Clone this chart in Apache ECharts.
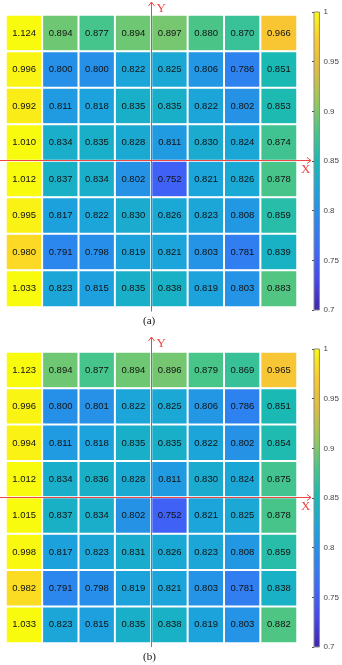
<!DOCTYPE html>
<html>
<head>
<meta charset="utf-8">
<script src="https://cdn.jsdelivr.net/npm/echarts@6/dist/echarts.min.js"></script>
<style>
  html, body { margin: 0; padding: 0; background: #fff; }
  #chart { width: 342px; height: 665px; }
</style>
</head>
<body>
<div id="chart"></div>
<script>
  // panel (a) values, top row first
  const rowsA = [
    [1.124, 0.894, 0.877, 0.894, 0.897, 0.880, 0.870, 0.966],
    [0.996, 0.800, 0.800, 0.822, 0.825, 0.806, 0.786, 0.851],
    [0.992, 0.811, 0.818, 0.835, 0.835, 0.822, 0.802, 0.853],
    [1.010, 0.834, 0.835, 0.828, 0.811, 0.830, 0.824, 0.874],
    [1.012, 0.837, 0.834, 0.802, 0.752, 0.821, 0.826, 0.878],
    [0.995, 0.817, 0.822, 0.830, 0.826, 0.823, 0.808, 0.859],
    [0.980, 0.791, 0.798, 0.819, 0.821, 0.803, 0.781, 0.839],
    [1.033, 0.823, 0.815, 0.835, 0.838, 0.819, 0.803, 0.883]
  ];
  // panel (b) values
  const rowsB = [
    [1.123, 0.894, 0.877, 0.894, 0.896, 0.879, 0.869, 0.965],
    [0.996, 0.800, 0.801, 0.822, 0.825, 0.806, 0.786, 0.851],
    [0.994, 0.811, 0.818, 0.835, 0.835, 0.822, 0.802, 0.854],
    [1.012, 0.834, 0.836, 0.828, 0.811, 0.830, 0.824, 0.875],
    [1.015, 0.837, 0.834, 0.802, 0.752, 0.821, 0.825, 0.878],
    [0.998, 0.817, 0.823, 0.831, 0.826, 0.823, 0.808, 0.859],
    [0.982, 0.791, 0.798, 0.819, 0.821, 0.803, 0.781, 0.838],
    [1.033, 0.823, 0.815, 0.835, 0.838, 0.819, 0.803, 0.882]
  ];
  const cols = ['1', '2', '3', '4', '5', '6', '7', '8'];
  const rows = ['1', '2', '3', '4', '5', '6', '7', '8'];
  const cbarMin = 0.7, cbarMax = 1, cbarStep = 0.05;
  const panelLabels = ['(a)', '(b)'];

  // parula-like colour map, evenly spaced from 0.7 to 1
  const parula = ['#3e26a8', '#4747eb', '#3d6af8', '#2c86ee', '#1ba4db', '#18b9b6',
                  '#4ac587', '#98c95c', '#dcbc45', '#fcc830', '#f9fb0e'];

  function toCells(m) {
    let out = [];
    m.forEach((r, i) => r.forEach((v, j) => out.push([j, i, v])));
    return out;
  }

  // colour bar fill, bottom (min) to top (max)
  const cbarFill = new echarts.graphic.LinearGradient(0, 1, 0, 0,
    parula.map((c, i) => ({ offset: i / (parula.length - 1), color: c })));

  const red = '#ef4545';
  const font = 'Liberation Sans, Arial, sans-serif';

  // panel geometry (pixels)
  const panels = [
    { top: 15, height: 292, cbTop: 12, midY: 160.5, yTop: 2, yBot: 311.5, lab: 323 },
    { top: 352, height: 291, cbTop: 349, midY: 497.5, yTop: 337, yBot: 647, lab: 659 }
  ];
  const gLeft = 6, gWidth = 291, cbLeft = 314, cbW = 10, cbH = 298, midX = 151.5;

  let grid = [], xAxis = [], yAxis = [], series = [], visualMap = [], graphic = [];
  [rowsA, rowsB].forEach((m, k) => {
    const p = panels[k];
    grid.push({ left: gLeft, top: p.top, width: gWidth, height: p.height });
    xAxis.push({ type: 'category', data: cols, gridIndex: grid.length - 1, show: false });
    yAxis.push({ type: 'category', data: rows, gridIndex: grid.length - 1, inverse: true, show: false });
    series.push({
      type: 'heatmap',
      xAxisIndex: xAxis.length - 1,
      yAxisIndex: yAxis.length - 1,
      data: toCells(m),
      itemStyle: { borderColor: '#fff', borderWidth: 2 },
      label: {
        show: true, color: '#111', fontSize: 9.5, fontFamily: font,
        formatter: q => q.value[2].toFixed(3)
      },
      emphasis: { disabled: true }
    });
    visualMap.push({
      type: 'continuous', seriesIndex: series.length - 1, show: false,
      min: cbarMin, max: cbarMax,
      inRange: { color: parula }
    });
    // colour bar with ticks
    grid.push({ left: cbLeft, top: p.cbTop, width: cbW, height: cbH, show: true,
                borderColor: '#8c8c8c', borderWidth: 1, backgroundColor: cbarFill });
    xAxis.push({ type: 'value', gridIndex: grid.length - 1, show: false });
    yAxis.push({
      type: 'value', gridIndex: grid.length - 1, position: 'right',
      min: cbarMin, max: cbarMax, interval: cbarStep,
      axisLine: { show: false },
      axisTick: { show: true, inside: true, length: 2, lineStyle: { color: '#555' } },
      splitLine: { show: false },
      axisLabel: { fontSize: 8, color: '#444', fontFamily: font, margin: 4 }
    });

    // red coordinate axes
    graphic.push(
      { type: 'line', shape: { x1: midX, y1: p.yTop, x2: midX, y2: p.yBot }, style: { stroke: red, lineWidth: 1 }, z: 20 },
      { type: 'polyline', shape: { points: [[midX - 3, p.yTop + 4], [midX, p.yTop], [midX + 3, p.yTop + 4]] }, style: { stroke: red, lineWidth: 1, fill: null }, z: 20 },
      { type: 'text', left: midX + 5, top: p.yTop, style: { text: 'Y', fill: red, font: '13px "Liberation Serif", serif' }, z: 20 },
      { type: 'line', shape: { x1: 0, y1: p.midY, x2: 311, y2: p.midY }, style: { stroke: red, lineWidth: 1 }, z: 20 },
      { type: 'polyline', shape: { points: [[307, p.midY - 3], [311, p.midY], [307, p.midY + 3]] }, style: { stroke: red, lineWidth: 1, fill: null }, z: 20 },
      { type: 'text', left: 301, top: p.midY + 3, style: { text: 'X', fill: red, font: '13px "Liberation Serif", serif' }, z: 20 },
      { type: 'text', left: 143, top: p.lab - 7, style: { text: panelLabels[k], fill: '#111', font: '11px "Liberation Serif", serif' } }
    );
  });

  const chart = echarts.init(document.getElementById('chart'));
  chart.setOption({
    animation: false,
    backgroundColor: '#fff',
    grid: grid,
    xAxis: xAxis,
    yAxis: yAxis,
    visualMap: visualMap,
    series: series,
    graphic: graphic
  });
</script>
</body>
</html>
